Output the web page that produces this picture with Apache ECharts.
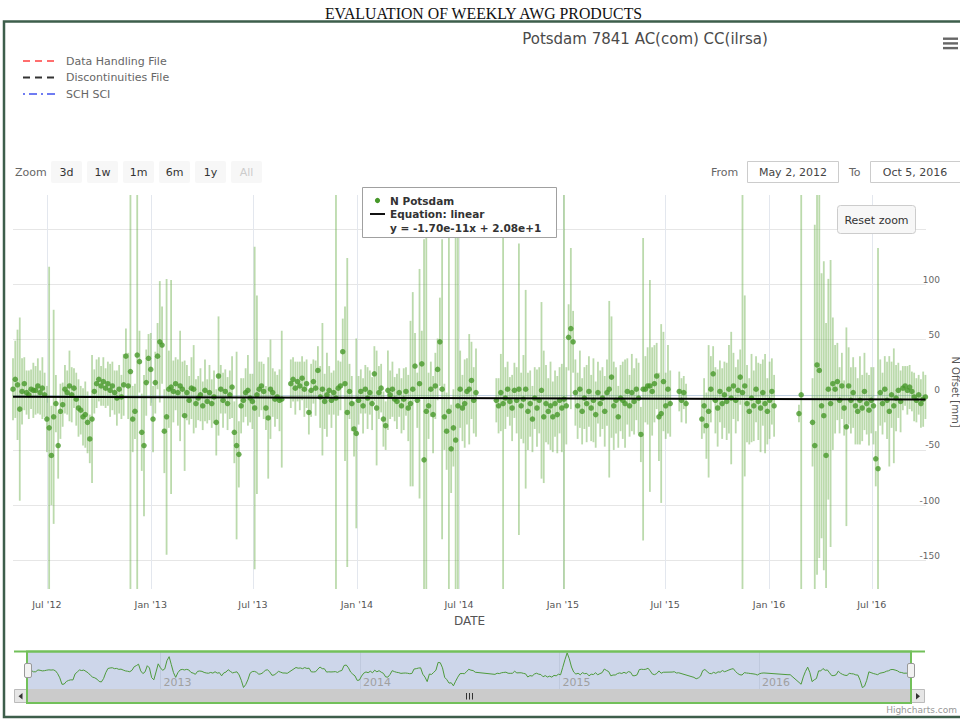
<!DOCTYPE html>
<html>
<head>
<meta charset="utf-8">
<script src="https://cdn.jsdelivr.net/npm/echarts@6/dist/echarts.min.js"></script>
<style>
  html, body { margin: 0; padding: 0; background: #ffffff; }
  #chart { width: 960px; height: 721px; }
</style>
</head>
<body>
<div id="chart"></div>
<script>
// ---- data -----------------------------------------------------------------
// Daily N offsets of station Potsdam 7841, sampled every 4 days starting on rangeFrom.
const rangeFrom = [2012, 5, 2];
const rangeTo = [2016, 10, 5];
const stepDays = 4;

// N offset [mm] (null = no solution)
const nOffset = [
  5, 14, 9, -13, 3, 10, 2, 0, 5, 4,
  4, 8, 2, 6, 0, -22, -30, -55, -20, -8,
  -46, -15, -9, 5, 2, 8, 0, 6, -4, -12,
  -14, -20, -18, -25, -40, -22, 3, 10, 14, 8,
  12, 6, 10, 4, 8, 2, -3, 5, -2, 9,
  35, 8, 21, -22, -15, 36, 30, -34, -46, 11,
  33, 23, -22, 11, 35, 48, 45, -33, -20, 5,
  7, 3, 10, 2, 8, 5, -19, 2, -5, 6,
  5, -8, -3, 0, -10, 4, -6, 2, -8, -2,
  -25, 17, 5, -5, 3, -8, 0, 7, -34, -46,
  -54, -10, -5, 2, 4, -3, -6, -12, 0, 5,
  8, 3, -12, -21, 5, 2, -4, -2, -5, -4,
  null, null, null, 10, 14, 6, 12, 8, 15, 5,
  10, -16, 4, 12, 6, 22, -2, 5, -6, 0,
  4, -5, 2, -3, 6, 8, 39, 10, -16, 3,
  -8, -31, -35, -5, 3, -10, 5, -3, 2, -8,
  19, -12, 2, 6, -22, -28, 4, 0, 5, -4,
  -6, 2, -10, -4, 3, -12, -8, 5, 26, -5,
  10, 28, -59, -15, -10, 5, -18, 8, 23, 48,
  5, -20, -33, -15, -49, -30, -41, -10, 5, -12,
  -8, 3, 5, 13, -5, 2, null, null, null, null,
  null, null, null, null, -5, -10, 2, -8, -3, 5,
  -6, -12, 4, -5, 5, -10, -4, 5, -15, -8,
  -22, -3, -12, -5, 4, -20, -8, -15, -10, -20,
  -8, -18, -5, -12, -4, -10, 52, 60, 48, 2,
  -10, 5, -15, -3, -8, 3, -12, -5, -18, 2,
  -8, -3, -15, 2, 5, 16, -10, -5, -20, -3,
  -5, -8, 3, -10, 2, -6, 5, -3, -36, 5,
  5, 8, 8, 3, 10, 17, -20, -17, 12, -10,
  5, -8, null, null, null, 3, -5, 2, -8, null,
  null, null, null, null, null, -22, -10, -28, -15, 5,
  19, -5, -12, 3, -8, 0, -6, 5, -3, 8,
  -5, 4, 16, 2, 8, -8, -15, -3, -10, 5,
  -6, -12, 2, -8, -15, -5, 3, -10, null, null,
  null, null, null, null, null, null, null, null, -17, 0,
  null, null, null, null, -25, -46, 27, 22, -10, -19,
  -55, 5, -8, 10, 5, 12, -5, 8, -12, -29,
  8, -5, 2, -10, -15, -5, -12, 3, -8, -14,
  -5, -10, -58, -67, 2, -8, 5, -5, -15, 0,
  -10, -3, 4, -6, 6, 8, 4, 7, 3, -2,
  -5, 0, -8, -4, -2
];

// formal error (half length of the error bar) [mm]
const nSigma = [
  28, 35, 50, 83, 30, 24, 20, 22, 18, 25,
  22, 25, 20, 28, 20, 30, 146, 45, 97, 26,
  30, 25, 20, 22, 20, 32, 25, 18, 24, 26,
  22, 26, 30, 28, 22, 58, 20, 22, 20, 18,
  22, 18, 20, 24, 22, 20, 25, 22, 20, 28,
  25, 30, 200, 30, 25, 215, 28, 35, 64, 30,
  22, 33, 30, 28, 30, 55, 35, 38, 125, 35,
  97, 28, 24, 30, 50, 25, 50, 25, 22, 28,
  40, 22, 20, 24, 22, 28, 20, 25, 22, 24,
  30, 54, 22, 25, 20, 24, 22, 28, 28, 85,
  30, 25, 20, 22, 32, 22, 25, 146, 90, 25,
  22, 25, 20, 55, 45, 22, 25, 20, 28, 62,
  null, null, null, 22, 20, 24, 18, 22, 20, 25,
  22, 20, 24, 20, 25, 22, 28, 60, 25, 38,
  22, 25, 20, 190, 25, 22, 30, 70, 140, 25,
  25, 25, 86, 22, 20, 25, 22, 28, 20, 24,
  25, 52, 24, 22, 25, 22, 36, 22, 25, 20,
  25, 22, 25, 28, 22, 30, 75, 88, 30, 25,
  104, 30, 200, 190, 30, 25, 35, 30, 28, 40,
  136, 30, 35, 200, 40, 35, 200, 190, 35, 30,
  40, 30, 50, 35, 30, 40, null, null, null, null,
  null, null, null, null, 20, 25, 35, 200, 28, 25,
  22, 30, 25, 30, 132, 30, 40, 90, 35, 30,
  30, 28, 35, 30, 80, 60, 35, 30, 40, 32,
  30, 35, 30, 40, 200, 35, 30, 73, 28, 30,
  30, 35, 30, 28, 35, 32, 30, 38, 30, 28,
  30, 28, 32, 30, 80, 55, 40, 30, 28, 30,
  35, 40, 30, 28, 35, 30, 28, 32, 25, 137,
  30, 35, 96, 40, 35, 30, 40, 81, 45, 30,
  40, 30, null, null, null, 18, 20, 15, 18, null,
  null, null, null, null, null, 18, 25, 30, 60, 30,
  25, 30, 35, 28, 32, 30, 35, 40, 60, 30,
  30, 28, 25, 200, 82, 35, 30, 40, 32, 30,
  35, 40, 30, 45, 30, 35, 30, 28, null, null,
  null, null, null, null, null, null, null, null, 8, 200,
  null, null, null, null, 40, 200, 190, 170, 120, 140,
  120, 100, 130, 60, 40, 35, 30, 30, 25, 90,
  35, 30, 32, 35, 30, 40, 30, 35, 28, 32,
  30, 35, 25, 200, 30, 28, 30, 35, 50, 30,
  52, 30, 25, 28, 20, 18, 22, 20, 18, 22,
  20, 18, 22, 25, 20
];

// linear trend reported for the series: y = slope * t[ms] + intercept
const trendSlope = -1.70e-11;
const trendIntercept = 2.08e+1;

// axis ticks
const dateTicks = [[2012, 7], [2013, 1], [2013, 7], [2014, 1], [2014, 7], [2015, 1], [2015, 7], [2016, 1], [2016, 7]];
const yearTicks = [2013, 2014, 2015, 2016];
const offsetGrid = [-150, -100, -50, 0, 50, 100, 150];
const offsetLabels = [-150, -100, -50, 0, 50, 100];
const yMin = -176, yMax = 181;

const zoomButtons = ['3d', '1w', '1m', '6m', '1y', 'All'];
const fileLegend = ['Data Handling File', 'Discontinuities File', 'SCH SCI'];
const monthNames = ['Jan', 'Feb', 'Mar', 'Apr', 'May', 'Jun', 'Jul', 'Aug', 'Sep', 'Oct', 'Nov', 'Dec'];

// ---- derived --------------------------------------------------------------
const DAY = 86400000;
const tFrom = new Date(rangeFrom[0], rangeFrom[1] - 1, rangeFrom[2]).getTime();
const tTo = new Date(rangeTo[0], rangeTo[1] - 1, rangeTo[2]).getTime();
const times = nOffset.map((_, i) => tFrom + i * stepDays * DAY);

const points = [];
const bars = [];
nOffset.forEach((v, i) => {
  if (v === null) return;
  points.push([times[i], v]);
  bars.push([times[i], v - nSigma[i], v + nSigma[i]]);
});

const trendAt = t => trendSlope * t + trendIntercept;
const firstT = points[0][0], lastT = points[points.length - 1][0];
const trend = [[firstT, trendAt(firstT)], [lastT, trendAt(lastT)]];

// navigator: short running mean of the offsets
const navLine = [];
nOffset.forEach((v, i) => {
  if (v === null) return;
  let s = 0, n = 0;
  for (let k = i - 1; k <= i + 1; k++) {
    if (k >= 0 && k < nOffset.length && nOffset[k] !== null) { s += nOffset[k]; n++; }
  }
  navLine.push([times[i], s / n]);
});

const tickTimes = dateTicks.map(d => new Date(d[0], d[1] - 1, 1).getTime());
const yearTimes = yearTicks.map(y => new Date(y, 0, 1).getTime());
const fmtTick = v => { const d = new Date(v); return monthNames[d.getMonth()] + " '" + String(d.getFullYear()).slice(2); };
const fmtDay = p => monthNames[p[1] - 1] + ' ' + p[2] + ', ' + p[0];
const equationText = 'y = ' + trendSlope.toExponential(2) + 'x + ' + trendIntercept.toExponential(2);

// ---- chart ----------------------------------------------------------------
const UI = '"DejaVu Sans", sans-serif';
const chart = echarts.init(document.getElementById('chart'), null, { renderer: 'svg' });

const graphics = [
  // page frame and heading
  { type: 'rect', z: 100, silent: true, shape: { x: 4, y: 21.5, width: 975, height: 695.5 },
    style: { fill: 'none', stroke: '#3d5e4b', lineWidth: 2.5 } },
  { type: 'text', z: 100, x: 483.5, y: 13,
    style: { text: 'EVALUATION OF WEEKLY AWG PRODUCTS', font: '15.8px "Liberation Serif", serif', fill: '#111', align: 'center', verticalAlign: 'middle' } },
  // chart title
  { type: 'text', z: 100, x: 645, y: 39,
    style: { text: 'Potsdam 7841 AC(com) CC(ilrsa)', font: '15px ' + UI, fill: '#4a4a4a', align: 'center', verticalAlign: 'middle' } },
  // export menu icon
  { type: 'rect', z: 100, shape: { x: 943, y: 37.5, width: 15, height: 2.4 }, style: { fill: '#666' } },
  { type: 'rect', z: 100, shape: { x: 943, y: 42.2, width: 15, height: 2.4 }, style: { fill: '#666' } },
  { type: 'rect', z: 100, shape: { x: 943, y: 46.9, width: 15, height: 2.4 }, style: { fill: '#666' } },
  // range selector
  { type: 'text', z: 100, x: 15, y: 172, style: { text: 'Zoom', font: '11px ' + UI, fill: '#666', verticalAlign: 'middle' } },
  { type: 'text', z: 100, x: 711, y: 172, style: { text: 'From', font: '11px ' + UI, fill: '#666', verticalAlign: 'middle' } },
  { type: 'rect', z: 100, shape: { x: 747.5, y: 161.5, width: 91, height: 21 }, style: { fill: '#fff', stroke: '#ccc', lineWidth: 1 } },
  { type: 'text', z: 101, x: 793, y: 172, style: { text: fmtDay(rangeFrom), font: '11px ' + UI, fill: '#444', align: 'center', verticalAlign: 'middle' } },
  { type: 'text', z: 100, x: 849, y: 172, style: { text: 'To', font: '11px ' + UI, fill: '#666', verticalAlign: 'middle' } },
  { type: 'rect', z: 100, shape: { x: 870.5, y: 161.5, width: 92, height: 21 }, style: { fill: '#fff', stroke: '#ccc', lineWidth: 1 } },
  { type: 'text', z: 101, x: 915, y: 172, style: { text: fmtDay(rangeTo), font: '11px ' + UI, fill: '#444', align: 'center', verticalAlign: 'middle' } },
  // reset zoom button
  { type: 'rect', z: 100, shape: { x: 837.5, y: 205.5, width: 78, height: 28, r: 3 }, style: { fill: '#f7f7f7', stroke: '#cccccc', lineWidth: 1 } },
  { type: 'text', z: 101, x: 876.5, y: 220, style: { text: 'Reset zoom', font: '11px ' + UI, fill: '#333', align: 'center', verticalAlign: 'middle' } },
  // floating series legend
  { type: 'rect', z: 100, shape: { x: 362.5, y: 187.5, width: 194, height: 50 }, style: { fill: '#fff', stroke: '#a0a0a0', lineWidth: 1 } },
  { type: 'circle', z: 101, shape: { cx: 377.5, cy: 200.5, r: 2.6 }, style: { fill: '#47982a' } },
  { type: 'line', z: 101, shape: { x1: 370, y1: 214, x2: 385, y2: 214 }, style: { stroke: '#111', lineWidth: 2 } },
  { type: 'text', z: 101, x: 390, y: 200.5, style: { text: 'N Potsdam', font: 'bold 10.5px ' + UI, fill: '#333', verticalAlign: 'middle' } },
  { type: 'text', z: 101, x: 390, y: 214, style: { text: 'Equation: linear', font: 'bold 10.5px ' + UI, fill: '#333', verticalAlign: 'middle' } },
  { type: 'text', z: 101, x: 390, y: 228, style: { text: equationText, font: 'bold 10.5px ' + UI, fill: '#333', verticalAlign: 'middle' } },
  // navigator scrollbar
  { type: 'rect', z: 100, shape: { x: 27, y: 689, width: 884, height: 14 }, style: { fill: '#cbcbcb' } },
  { type: 'rect', z: 100, shape: { x: 14.5, y: 689.5, width: 12.5, height: 13 }, style: { fill: '#e6e6e6', stroke: '#bbb', lineWidth: 1 } },
  { type: 'polygon', z: 101, shape: { points: [[22.5, 693], [22.5, 699.5], [18.5, 696.2]] }, style: { fill: '#333' } },
  { type: 'rect', z: 100, shape: { x: 911, y: 689.5, width: 13.5, height: 13 }, style: { fill: '#e6e6e6', stroke: '#bbb', lineWidth: 1 } },
  { type: 'polygon', z: 101, shape: { points: [[916, 693], [916, 699.5], [920, 696.2]] }, style: { fill: '#333' } },
  { type: 'line', z: 101, shape: { x1: 466.5, y1: 693, x2: 466.5, y2: 699.5 }, style: { stroke: '#333', lineWidth: 1 } },
  { type: 'line', z: 101, shape: { x1: 469.5, y1: 693, x2: 469.5, y2: 699.5 }, style: { stroke: '#333', lineWidth: 1 } },
  { type: 'line', z: 101, shape: { x1: 472.5, y1: 693, x2: 472.5, y2: 699.5 }, style: { stroke: '#333', lineWidth: 1 } },
  // navigator outline
  { type: 'line', z: 102, shape: { x1: 14, y1: 651.5, x2: 925, y2: 651.5 }, style: { stroke: '#72c05a', lineWidth: 2 } },
  { type: 'rect', z: 102, shape: { x: 27, y: 651.5, width: 884, height: 51.5 }, style: { fill: 'none', stroke: '#72c05a', lineWidth: 2 } },
  // navigator handles
  { type: 'rect', z: 103, shape: { x: 24.5, y: 663.5, width: 7, height: 14, r: 1.5 }, style: { fill: '#f2f2f2', stroke: '#999', lineWidth: 1 } },
  { type: 'rect', z: 103, shape: { x: 907.5, y: 663.5, width: 7, height: 14, r: 1.5 }, style: { fill: '#f2f2f2', stroke: '#999', lineWidth: 1 } },
  // credits
  { type: 'text', z: 100, x: 957, y: 710, style: { text: 'Highcharts.com', font: '9px ' + UI, fill: '#999', align: 'right', verticalAlign: 'middle' } }
];

zoomButtons.forEach((label, k) => {
  const x = 51 + k * 36;
  graphics.push({ type: 'rect', z: 100, shape: { x: x, y: 161, width: 31, height: 22, r: 2 }, style: { fill: '#f7f7f7' } });
  graphics.push({ type: 'text', z: 101, x: x + 15.5, y: 172,
    style: { text: label, font: '11px ' + UI, fill: label === 'All' ? '#cccccc' : '#333', align: 'center', verticalAlign: 'middle' } });
});

const option = {
  backgroundColor: '#ffffff',
  animation: false,
  textStyle: { fontFamily: UI },
  legend: {
    orient: 'vertical', left: 17, top: 49.5,
    itemWidth: 33, itemHeight: 10, itemGap: 3.5,
    selectedMode: false,
    data: fileLegend,
    itemStyle: { opacity: 0 },
    textStyle: { color: '#666', fontSize: 11, lineHeight: 13, padding: [0, 0, 0, 5] }
  },
  grid: [
    { left: 13, top: 195, width: 913, height: 394, outerBoundsMode: 'none', containLabel: false },
    { left: 27, top: 651.5, width: 884, height: 37.5, outerBoundsMode: 'none', containLabel: false,
      show: true, backgroundColor: '#cdd6ea', borderWidth: 0 }
  ],
  xAxis: [
    {
      type: 'value', gridIndex: 0, min: tFrom, max: tTo,
      name: 'DATE', nameLocation: 'middle', nameGap: 26,
      nameTextStyle: { color: '#555', fontSize: 12 },
      axisLine: { lineStyle: { color: '#C0D0E0', width: 1 } },
      axisTick: { show: true, length: 8, customValues: tickTimes, lineStyle: { color: '#C0D0E0' } },
      axisLabel: { customValues: tickTimes, formatter: fmtTick, color: '#555', fontSize: 9.5, margin: 10 },
      splitLine: { show: true, lineStyle: { color: '#e3e7ee', width: 1 } }
    },
    {
      type: 'value', gridIndex: 1, min: tFrom, max: tTo,
      axisLine: { show: false },
      axisTick: { show: false, customValues: yearTimes },
      axisLabel: { inside: true, customValues: yearTimes, formatter: v => String(new Date(v).getFullYear()),
                   color: '#a0a0a0', fontSize: 11, align: 'left', padding: [0, 0, 0, 3], margin: 1 },
      splitLine: { show: true, lineStyle: { color: '#bfc9dd', width: 1 } }
    }
  ],
  yAxis: [
    {
      type: 'value', gridIndex: 0, position: 'right', min: yMin, max: yMax,
      name: 'N Offset [mm]', nameLocation: 'middle', nameRotate: -90, nameGap: 22,
      nameTextStyle: { color: '#555', fontSize: 10 },
      axisLine: { show: false },
      axisTick: { show: false, customValues: offsetGrid },
      axisLabel: { customValues: offsetLabels, align: 'right', margin: 14, verticalAlign: 'bottom', color: '#666', fontSize: 9 },
      splitLine: { show: true, lineStyle: { color: '#e6e6e6', width: 1 } }
    },
    {
      type: 'value', gridIndex: 1, show: false,
      min: v => v.min - 4, max: v => v.max + 4,
      splitLine: { show: false }
    }
  ],
  series: [
    {
      name: 'N Potsdam error', type: 'custom', xAxisIndex: 0, yAxisIndex: 0, z: 2,
      data: bars, silent: true,
      renderItem: (params, api) => {
        const x = api.value(0);
        const lo = Math.max(api.value(1), yMin);
        const hi = Math.min(api.value(2), yMax);
        const p1 = api.coord([x, lo]);
        const p2 = api.coord([x, hi]);
        return { type: 'line', shape: { x1: p1[0], y1: p1[1], x2: p2[0], y2: p2[1] },
                 style: { stroke: 'rgba(104,172,72,0.45)', lineWidth: 1.8 } };
      }
    },
    {
      name: 'N Potsdam', type: 'scatter', xAxisIndex: 0, yAxisIndex: 0, z: 3,
      data: points, symbolSize: 5.5, itemStyle: { color: '#47982a' }
    },
    {
      name: 'Equation: linear', type: 'line', xAxisIndex: 0, yAxisIndex: 0, z: 4,
      data: trend, symbol: 'none', lineStyle: { color: '#000', width: 2 }
    },
    { name: fileLegend[0], type: 'line', data: [], symbol: 'none', itemStyle: { color: '#ff6e6e' }, lineStyle: { color: '#ff6e6e', width: 2, type: [7, 5] } },
    { name: fileLegend[1], type: 'line', data: [], symbol: 'none', itemStyle: { color: '#333' }, lineStyle: { color: '#333', width: 2, type: [7, 5] } },
    { name: fileLegend[2], type: 'line', data: [], symbol: 'none', itemStyle: { color: '#6f7cf2' }, lineStyle: { color: '#6f7cf2', width: 2, type: [2, 4, 8, 4] } },
    {
      name: 'navigator', type: 'line', xAxisIndex: 1, yAxisIndex: 1, z: 3,
      data: navLine, symbol: 'none', connectNulls: true, silent: true,
      lineStyle: { color: '#4e9a3c', width: 1 }
    }
  ],
  graphic: graphics
};

chart.setOption(option);
</script>
</body>
</html>
